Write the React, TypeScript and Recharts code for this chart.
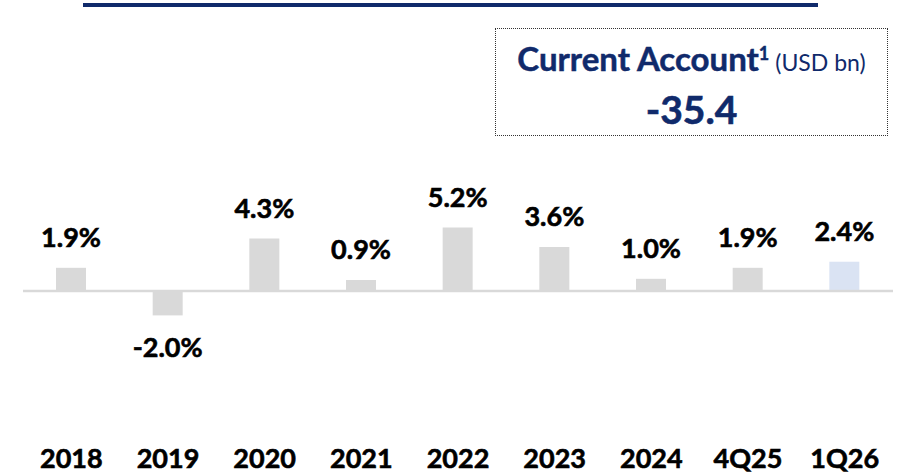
import React from 'react';
import { BarChart, Bar, XAxis, YAxis, Cell, LabelList, ReferenceLine } from 'recharts';

const periods = ['2018', '2019', '2020', '2021', '2022', '2023', '2024', '4Q25', '1Q26'];
const values = [1.9, -2.0, 4.3, 0.9, 5.2, 3.6, 1.0, 1.9, 2.4];
const highlight = ['1Q26'];

const currentAccount = -35.4;

const NAVY = '#102a6b';
const FONT = 'Lato, "Open Sans", sans-serif';

const chartData = periods.map((p, i) => ({ period: p, value: values[i] }));

const ValueLabel = (props: any) => {
  const { x, y, width, height, value } = props;
  const top = Math.min(y, y + height);
  const bottom = Math.max(y, y + height);
  const ty = value >= 0 ? top - 21 : bottom + 42;
  return (
    <text
      x={x + width / 2} y={ty} textAnchor="middle"
      fontFamily={FONT} fontWeight={700} fontSize={27} fill="#000" stroke="#000" strokeWidth={0.6}
    >
      {value.toFixed(1)}%
    </text>
  );
};

const PeriodTick = (props: any) => {
  const { x, payload } = props;
  return (
    <text
      x={x} y={468} textAnchor="middle"
      fontFamily={FONT} fontWeight={700} fontSize={27} fill="#000" stroke="#000" strokeWidth={0.6}
    >
      {payload.value}
    </text>
  );
};

export default function App() {
  return (
    <div style={{ position: 'absolute', left: 0, top: 0, width: 903, height: 475, background: '#fff', overflow: 'hidden' }}>
      {/* header rule */}
      <div style={{ position: 'absolute', left: 83, top: 3, width: 735, height: 4, background: NAVY }} />

      {/* current account box */}
      <div
        style={{
          position: 'absolute', left: 495, top: 28, width: 393, height: 108,
          border: '1px dotted #333', boxSizing: 'border-box',
          fontFamily: FONT, color: NAVY, textAlign: 'center',
        }}
      >
        <div style={{ position: 'absolute', left: 0, right: 0, top: 9, whiteSpace: 'nowrap' }}>
          <span style={{ fontWeight: 700, fontSize: 33, WebkitTextStroke: '0.5px ' + NAVY }}>Current Account</span>
          <sup style={{ fontWeight: 700, fontSize: 18, position: 'relative', top: -5, WebkitTextStroke: '0.4px ' + NAVY }}>1</sup>
          <span style={{ fontSize: 23, marginLeft: 6 }}>(USD bn)</span>
        </div>
        <div style={{ position: 'absolute', left: 0, right: 0, top: 57, fontWeight: 700, fontSize: 39, WebkitTextStroke: '0.6px ' + NAVY }}>
          {currentAccount.toFixed(1)}
        </div>
      </div>

      <BarChart
        width={903}
        height={475}
        data={chartData}
        margin={{ top: 169, right: 10, bottom: 32, left: 23 }}
        style={{ position: 'absolute', left: 0, top: 0 }}
      >
        <YAxis hide domain={[-10, 10]} />
        <XAxis dataKey="period" axisLine={false} tickLine={false} height={30} tick={<PeriodTick />} interval={0} />
        <Bar dataKey="value" barSize={30} isAnimationActive={false}>
          {chartData.map((d, i) => (
            <Cell key={i} fill={highlight.includes(d.period) ? '#dae3f3' : '#d9d9d9'} />
          ))}
          <LabelList dataKey="value" content={<ValueLabel />} />
        </Bar>
        <ReferenceLine y={0} stroke="#d9d9d9" strokeWidth={2.5} />
      </BarChart>
    </div>
  );
}
